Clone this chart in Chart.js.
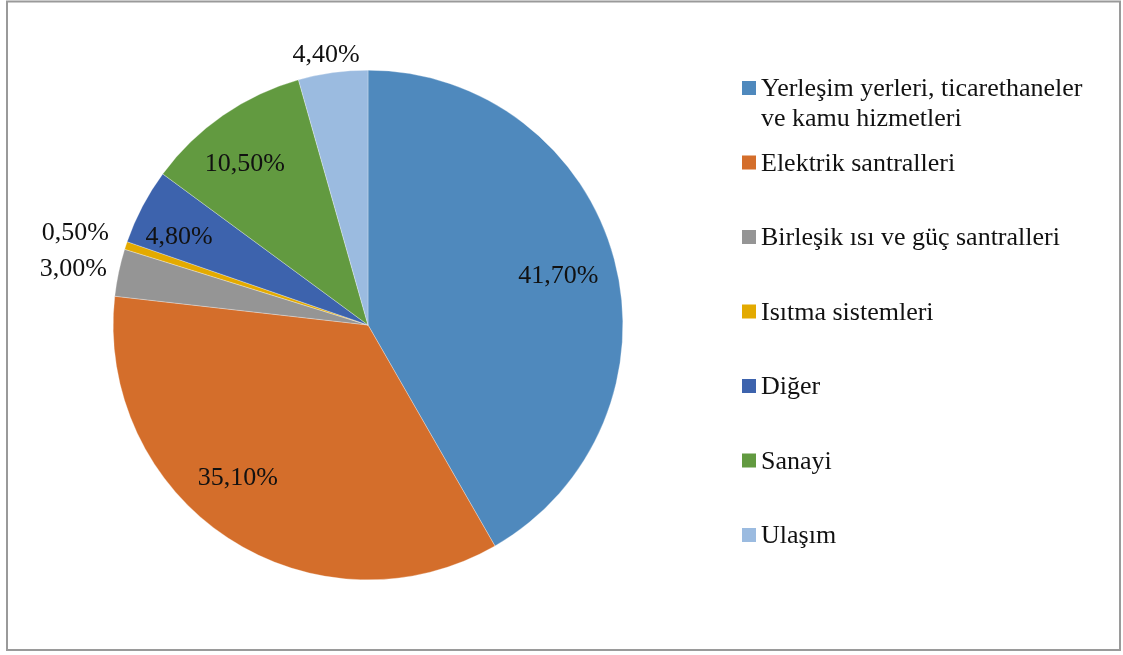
<!DOCTYPE html>
<html>
<head>
<meta charset="utf-8">
<script src="https://cdn.jsdelivr.net/npm/chart.js@4.4.1/dist/chart.umd.min.js"></script>
<style>
  html, body { margin: 0; padding: 0; background: #ffffff; }
  #wrap { position: relative; width: 1123px; height: 655px; }
  canvas { display: block; }
</style>
</head>
<body>
<div id="wrap"><canvas id="c" width="1123" height="655"></canvas></div>
<script>
// ---- data ----
const categories = [
  "Yerleşim yerleri, ticarethaneler ve kamu hizmetleri",
  "Elektrik santralleri",
  "Birleşik ısı ve güç santralleri",
  "Isıtma sistemleri",
  "Diğer",
  "Sanayi",
  "Ulaşım"
];
const shares = [41.7, 35.1, 3.0, 0.5, 4.8, 10.5, 4.4];
const valueLabels = ["41,70%", "35,10%", "3,00%", "0,50%", "4,80%", "10,50%", "4,40%"];

// ---- style ----
const sliceColors = ["#4F89BD", "#D46E2B", "#959595", "#E3AA00", "#3D63AD", "#629A40", "#9BBBE0"];
const FONT = '"Times New Roman", "Liberation Serif", serif';
// label placement: radial distance (px) along slice mid-angle + small nudge
const labelDist = [197, 199, 300, 308, 209, 204, 275];
const labelNudge = [[0,0],[-21,-15],[-1,4],[0,2],[-4,7],[-7,5],[-4,0]];

const frame = {
  id: 'frame',
  beforeDraw(chart) {
    const ctx = chart.ctx;
    ctx.save();
    ctx.fillStyle = '#ffffff';
    ctx.fillRect(0, 0, chart.width, chart.height);
    ctx.strokeStyle = '#9a9a9a';
    ctx.lineWidth = 2;
    ctx.strokeRect(7, 1.5, 1113, 648.5);
    ctx.restore();
  }
};

const sliceLabels = {
  id: 'sliceLabels',
  afterDatasetsDraw(chart) {
    const ctx = chart.ctx;
    const meta = chart.getDatasetMeta(0);
    ctx.save();
    ctx.font = '26px ' + FONT;
    ctx.fillStyle = '#111111';
    ctx.textAlign = 'center';
    ctx.textBaseline = 'alphabetic';
    meta.data.forEach((arc, i) => {
      const a = (arc.startAngle + arc.endAngle) / 2;
      const x = arc.x + Math.cos(a) * labelDist[i] + labelNudge[i][0];
      const y = arc.y + Math.sin(a) * labelDist[i] + labelNudge[i][1];
      ctx.fillText(valueLabels[i], x, y + 9);
    });
    ctx.restore();
  }
};

const sideLegend = {
  id: 'sideLegend',
  afterDraw(chart) {
    const ctx = chart.ctx;
    const x0 = 742, textX = 761, top = 81, step = 74.5, box = 14, lineH = 29.5, maxW = 345;
    ctx.save();
    ctx.font = '26px ' + FONT;
    ctx.fillStyle = '#111111';
    ctx.textAlign = 'left';
    ctx.textBaseline = 'alphabetic';
    categories.forEach((label, i) => {
      const y = top + i * step;
      ctx.fillStyle = sliceColors[i];
      ctx.fillRect(x0, y, box, box);
      // wrap
      const words = label.split(' ');
      const lines = [];
      let cur = '';
      words.forEach(w => {
        const t = cur ? cur + ' ' + w : w;
        if (ctx.measureText(t).width > maxW && cur) { lines.push(cur); cur = w; }
        else cur = t;
      });
      lines.push(cur);
      ctx.fillStyle = '#111111';
      lines.forEach((ln, k) => ctx.fillText(ln, textX, y + 15 + k * lineH));
    });
    ctx.restore();
  }
};

new Chart(document.getElementById('c'), {
  type: 'pie',
  data: {
    labels: categories,
    datasets: [{
      data: shares,
      backgroundColor: sliceColors,
      borderColor: '#ffffff',
      borderWidth: 0.3
    }]
  },
  options: {
    responsive: false,
    animation: false,
    layout: { padding: { left: 113, right: 500, top: 70, bottom: 75 } },
    plugins: {
      legend: { display: false },
      tooltip: { enabled: false }
    }
  },
  plugins: [frame, sliceLabels, sideLegend]
});
</script>
</body>
</html>
